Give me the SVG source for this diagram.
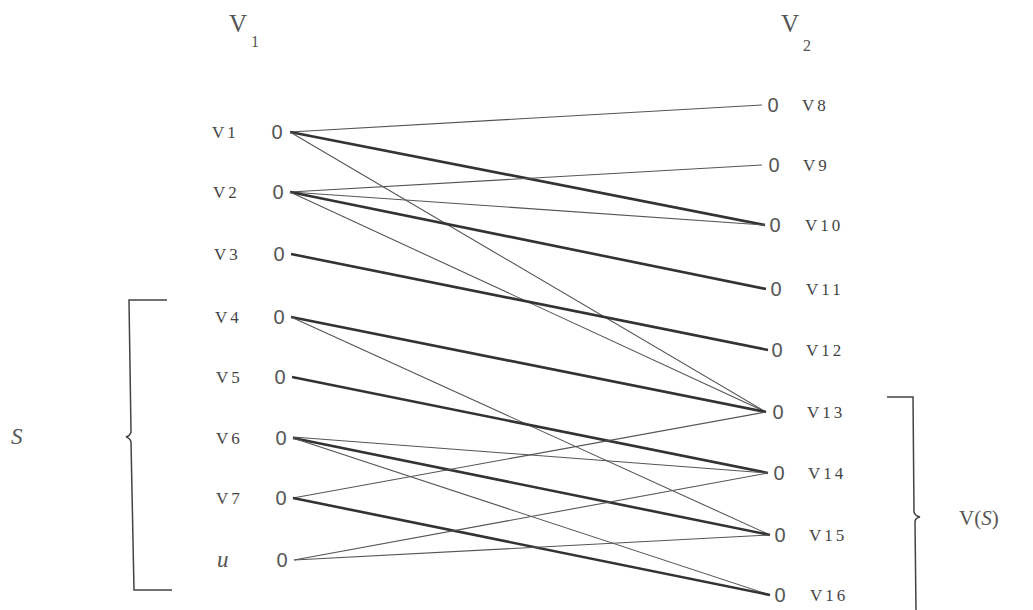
<svg xmlns="http://www.w3.org/2000/svg" width="1033" height="610" viewBox="0 0 1033 610">
<style>
.lbl{font-family:"Liberation Serif",serif;font-size:17px;fill:#444;letter-spacing:3px}
.zero{font-family:"Liberation Sans",sans-serif;font-size:20px;fill:#555;text-anchor:middle}
.hd{font-family:"Liberation Serif",serif;font-size:25px;fill:#555}
.sub{font-family:"Liberation Serif",serif;font-size:16px;fill:#555}
.it{font-family:"Liberation Serif",serif;font-size:23px;font-style:italic;fill:#555}
.thin{stroke:#555;stroke-width:1.1;fill:none}
.thick{stroke:#333;stroke-width:2.6;fill:none}
.br{stroke:#444;stroke-width:1.5;fill:none}
</style>
<g id="headers">
<text class="hd" x="229" y="32">V</text><text class="sub" x="251" y="47">1</text>
<text class="hd" x="781" y="32">V</text><text class="sub" x="803" y="51">2</text>
</g>
<g id="connectors">
<line class="thin" x1="290" y1="132" x2="762" y2="105"/>
<line class="thick" x1="290" y1="132" x2="765" y2="225"/>
<line class="thin" x1="290" y1="132" x2="766" y2="412"/>
<line class="thin" x1="290" y1="192" x2="762" y2="165"/>
<line class="thin" x1="290" y1="192" x2="765" y2="225"/>
<line class="thick" x1="290" y1="192" x2="766" y2="289"/>
<line class="thin" x1="290" y1="192" x2="766" y2="412"/>
<line class="thick" x1="291" y1="254" x2="768" y2="350"/>
<line class="thick" x1="291" y1="317" x2="766" y2="412"/>
<line class="thin" x1="291" y1="317" x2="770" y2="535"/>
<line class="thick" x1="292" y1="377" x2="768" y2="473"/>
<line class="thin" x1="293" y1="437" x2="768" y2="473"/>
<line class="thick" x1="293" y1="438" x2="770" y2="535"/>
<line class="thin" x1="293" y1="438" x2="770" y2="595"/>
<line class="thin" x1="293" y1="498" x2="766" y2="412"/>
<line class="thick" x1="293" y1="498" x2="770" y2="595"/>
<line class="thin" x1="294" y1="560" x2="768" y2="473"/>
<line class="thin" x1="294" y1="560" x2="770" y2="535"/>
</g>
<g id="v1"><text class="lbl" x="212" y="138">V1</text><text class="zero" x="277" y="139">0</text></g>
<g id="v2"><text class="lbl" x="213" y="198">V2</text><text class="zero" x="278" y="199">0</text></g>
<g id="v3"><text class="lbl" x="214" y="260">V3</text><text class="zero" x="279" y="261">0</text></g>
<g id="v4"><text class="lbl" x="215" y="323">V4</text><text class="zero" x="279" y="324">0</text></g>
<g id="v5"><text class="lbl" x="216" y="383">V5</text><text class="zero" x="280" y="384">0</text></g>
<g id="v6"><text class="lbl" x="216" y="444">V6</text><text class="zero" x="281" y="445">0</text></g>
<g id="v7"><text class="lbl" x="216" y="504">V7</text><text class="zero" x="281" y="505">0</text></g>
<g id="u"><text class="it" x="217" y="567">u</text><text class="zero" x="282" y="567">0</text></g>
<g id="v8"><text class="zero" x="773" y="112">0</text><text class="lbl" x="802" y="111">V8</text></g>
<g id="v9"><text class="zero" x="774" y="172">0</text><text class="lbl" x="803" y="171">V9</text></g>
<g id="v10"><text class="zero" x="775" y="232">0</text><text class="lbl" x="805" y="231">V10</text></g>
<g id="v11"><text class="zero" x="776" y="296">0</text><text class="lbl" x="806" y="295">V11</text></g>
<g id="v12"><text class="zero" x="777" y="357">0</text><text class="lbl" x="806" y="356">V12</text></g>
<g id="v13"><text class="zero" x="778" y="419">0</text><text class="lbl" x="807" y="418">V13</text></g>
<g id="v14"><text class="zero" x="779" y="480">0</text><text class="lbl" x="808" y="479">V14</text></g>
<g id="v15"><text class="zero" x="780" y="542">0</text><text class="lbl" x="809" y="541">V15</text></g>
<g id="v16"><text class="zero" x="780" y="602">0</text><text class="lbl" x="810" y="601">V16</text></g>
<g id="S">
<path class="br" d="M167,300 L129,300 L131,432 Q130,436 126,437 Q130,438 131,442 L134,590 L172,590"/>
<text class="it" x="11" y="444">S</text>
</g>
<g id="VS">
<path class="br" d="M887,397 L913,397 L914,512 Q915,516 920,517 Q915,518 915,522 L916,610"/>
<text class="hd" x="959" y="525" style="font-size:21px">V(<tspan font-style="italic">S</tspan>)</text>
</g>
</svg>
